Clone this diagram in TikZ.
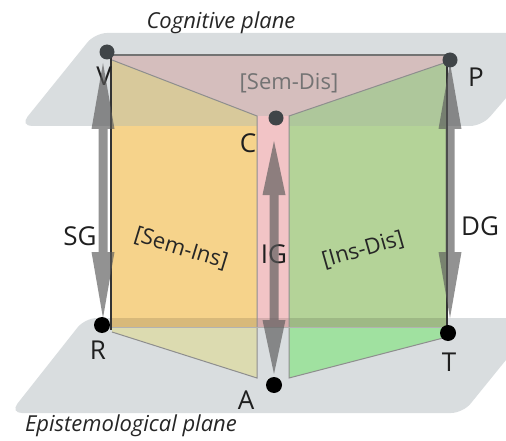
\documentclass[tikz,border=0pt]{standalone}
\usepackage{fontspec}
\setmainfont{Open Sans}
\usepackage{tikz}
\usetikzlibrary{arrows.meta}

\definecolor{planegray}{HTML}{D9DDDF}
\definecolor{semdis}{HTML}{D5BEBD}
\definecolor{yelmute}{HTML}{D8C99B}
\definecolor{yelface}{HTML}{F6D38B}
\definecolor{yelpale}{HTML}{DCDBB0}
\definecolor{pinkface}{HTML}{F2C4C6}
\definecolor{grnmute}{HTML}{AEC79B}
\definecolor{grnface}{HTML}{B4D398}
\definecolor{grnpale}{HTML}{A0E1A0}
\definecolor{dotgray}{HTML}{404548}
\definecolor{edgegray}{HTML}{8E8E8E}
\definecolor{arrowgray}{HTML}{5A5A5A}

\tikzset{
  pt/.style={circle, fill=black, inner sep=0pt, minimum size=16pt},
  ptdark/.style={pt, fill=dotgray, minimum size=15pt},
  lbl/.style={inner sep=0pt, text=black!88, font=\fontsize{26}{30}\selectfont},
  facelbl/.style={inner sep=0pt, text=black!85, font=\fontsize{22}{26}\selectfont},
  planelbl/.style={inner sep=0pt, text=black!85, font=\itshape\fontsize{22}{26}\selectfont},
  edge/.style={edgegray, line width=1pt},
  gen/.style={line width=9pt, arrowgray,
    {Triangle[length=#1, width=23pt, line width=0pt]}-{Triangle[length=#1, width=23pt, line width=0pt]}},
  gen/.default=66pt
}

\begin{document}
\begin{tikzpicture}[x=1pt,y=-1pt]
  \useasboundingbox (0,0) rectangle (506,441);
  \clip (0,0) rectangle (506,441);

  % planes
  \fill[planegray, rounded corners=12pt] (95,33) -- (562,33) -- (482,126) -- (20,126) -- cycle;
  \fill[planegray, rounded corners=12pt] (85,318) -- (540,318) -- (463,413) -- (10,413) -- cycle;

  % faces
  \fill[semdis] (112,55) -- (447,55) -- (447,62) -- (289,116) -- (257,116) -- (112,60) -- cycle;
  \fill[yelmute] (112,60) -- (257,116) -- (257,126) -- (112,126) -- cycle;
  \fill[yelface] (112,126) rectangle (257,328);
  \fill[yelpale] (112,328) -- (257,328) -- (257,378) -- (112,332) -- cycle;
  \fill[pinkface] (257,116) rectangle (289,328);
  \fill[grnmute] (447,62) -- (289,116) -- (289,126) -- (447,126) -- cycle;
  \fill[grnface] (289,126) rectangle (447,328);
  \fill[grnpale] (289,328) -- (447,328) -- (447,337) -- (289,378) -- cycle;
  \fill[black, opacity=0.12] (112,318) rectangle (447,328);

  % edges
  \draw[edge] (112,60) -- (257,116) -- (257,378) -- (112,332);
  \draw[edge] (447,62) -- (289,116) -- (289,378) -- (447,337);
  \draw[black!55, line width=1.3pt] (110,55) -- (448,55);
  \draw[black!80, line width=1.3pt] (111,56) -- (111,330);
  \draw[black!80, line width=1.3pt] (447,58) -- (447,336);
  \draw[black!30, line width=1pt] (112,327.5) -- (447,327.5);

  % labels
  \node[planelbl] (cog) at (221,23) {Cognitive plane};
  \node[planelbl] (epi) at (131,426) {Epistemological plane};
  \node[lbl] (Vl) at (104,76) {V};
  \node[lbl] (Pl) at (476,77) {P};
  \node[lbl] (Cl) at (248,143) {C};
  \node[lbl] (Rl) at (98,350) {R};
  \node[lbl] (Tl) at (449,362) {T};
  \node[lbl] (Al) at (246,400) {A};
  \node[lbl] (SG) at (80,236) {SG};
  \node[lbl] (DG) at (480,226) {DG};
  \node[lbl] (IG) at (274,254) {IG};
  \node[facelbl, text=black!55] (sd) at (289,83) {[Sem-Dis]};
  \node[facelbl, rotate=-17] (si) at (181,249) {[Sem-Ins]};
  \node[facelbl, rotate=16] (id) at (363,250) {[Ins-Dis]};

  % generation arrows
  \coordinate (sgtop) at (103,63);
  \coordinate (sgbot) at (103,318);
  \coordinate (dgtop) at (450,63);
  \coordinate (dgbot) at (450,318);
  \coordinate (igtop) at (274,141);
  \coordinate (igbot) at (274,374);
  \begin{scope}[transparency group, opacity=0.66]
    \draw[gen] (sgbot) -- (sgtop);
    \draw[gen] (dgbot) -- (dgtop);
    \draw[gen=54pt] (igbot) -- (igtop);
  \end{scope}

  % points
  \node[ptdark] (V) at (107,52) {};
  \node[ptdark] (P) at (450,60) {};
  \node[ptdark] (C) at (276,118) {};
  \node[pt] (R) at (102,325) {};
  \node[pt] (T) at (448,333) {};
  \node[pt] (A) at (274,385) {};
\end{tikzpicture}
\end{document}
